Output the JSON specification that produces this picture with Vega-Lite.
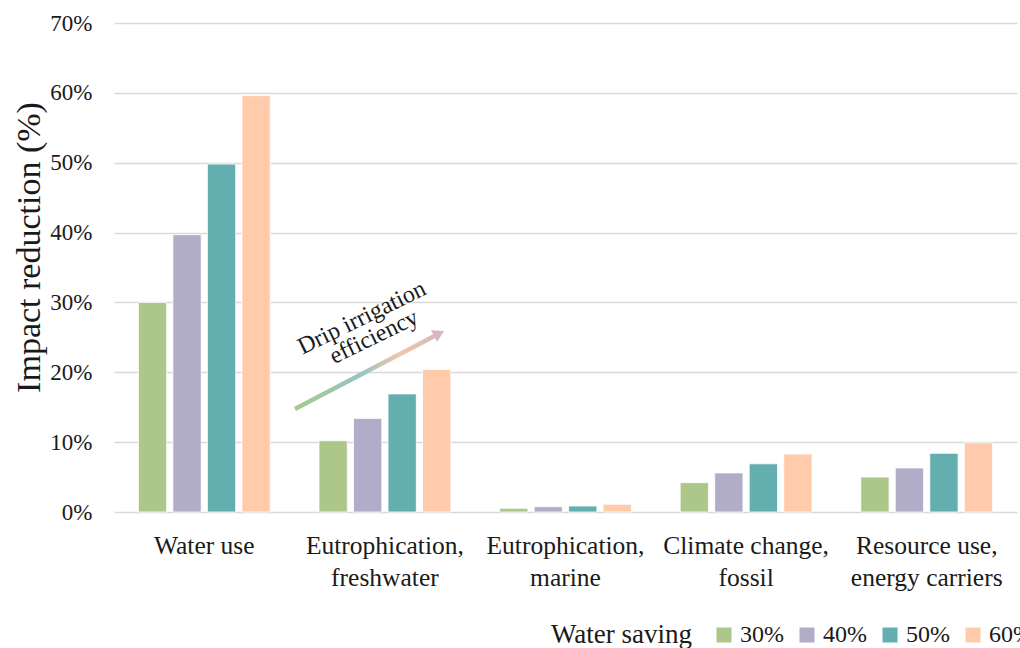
{
  "$schema": "https://vega.github.io/schema/vega-lite/v6.json",
  "autosize": {"type": "none"},
  "padding": {"left": 114, "top": 23, "right": 3, "bottom": 136},
  "width": 903,
  "height": 489,
  "background": "white",
  "config": {
    "font": "Liberation Serif",
    "view": {"stroke": null},
    "axis": {"labelFont": "Liberation Serif", "titleFont": "Liberation Serif", "labelColor": "#1a1a1a", "titleColor": "#1a1a1a"},
    "legend": {"labelFont": "Liberation Serif", "titleFont": "Liberation Serif"}
  },
  "layer": [
    {
      "data": {"values": [
        {"category": "Water use", "saving": "30%", "value": 0.300},
        {"category": "Water use", "saving": "40%", "value": 0.397},
        {"category": "Water use", "saving": "50%", "value": 0.498},
        {"category": "Water use", "saving": "60%", "value": 0.596},
        {"category": "Eutrophication, freshwater", "saving": "30%", "value": 0.102},
        {"category": "Eutrophication, freshwater", "saving": "40%", "value": 0.134},
        {"category": "Eutrophication, freshwater", "saving": "50%", "value": 0.169},
        {"category": "Eutrophication, freshwater", "saving": "60%", "value": 0.204},
        {"category": "Eutrophication, marine", "saving": "30%", "value": 0.0053},
        {"category": "Eutrophication, marine", "saving": "40%", "value": 0.0076},
        {"category": "Eutrophication, marine", "saving": "50%", "value": 0.0086},
        {"category": "Eutrophication, marine", "saving": "60%", "value": 0.011},
        {"category": "Climate change, fossil", "saving": "30%", "value": 0.042},
        {"category": "Climate change, fossil", "saving": "40%", "value": 0.056},
        {"category": "Climate change, fossil", "saving": "50%", "value": 0.069},
        {"category": "Climate change, fossil", "saving": "60%", "value": 0.083},
        {"category": "Resource use, energy carriers", "saving": "30%", "value": 0.050},
        {"category": "Resource use, energy carriers", "saving": "40%", "value": 0.063},
        {"category": "Resource use, energy carriers", "saving": "50%", "value": 0.084},
        {"category": "Resource use, energy carriers", "saving": "60%", "value": 0.099}
      ]},
      "mark": {"type": "bar", "stroke": "white", "strokeWidth": 0.8},
      "encoding": {
        "x": {
          "field": "category", "type": "nominal", "sort": null,
          "scale": {"paddingInner": 0.27, "paddingOuter": 0.135},
          "axis": {
            "title": null, "labelAngle": 0, "labelFontSize": 25.5, "labelPadding": 33,
            "labelLineHeight": 32, "ticks": false, "domain": false, "labelBaseline": "middle",
            "labelExpr": "indexof(datum.value, ', ') > 0 ? [slice(datum.value, 0, indexof(datum.value, ', ') + 1), slice(datum.value, indexof(datum.value, ', ') + 2)] : datum.value"
          }
        },
        "xOffset": {"field": "saving", "type": "nominal", "scale": {"paddingInner": 0.18, "paddingOuter": 0}},
        "y": {
          "field": "value", "type": "quantitative",
          "scale": {"domain": [0, 0.7], "nice": false},
          "axis": {
            "title": "Impact reduction (%)", "titleFontSize": 34, "titleFontWeight": "normal", "titlePadding": 3,
            "titleY": 224,
            "format": ".0%", "values": [0, 0.1, 0.2, 0.3, 0.4, 0.5, 0.6, 0.7],
            "labelFontSize": 23, "labelPadding": 22, "ticks": false, "domain": false,
            "grid": true, "gridColor": "#d9d9d9", "gridWidth": 1.5
          }
        },
        "color": {
          "field": "saving", "type": "nominal",
          "scale": {"domain": ["30%", "40%", "50%", "60%"], "range": ["#ADC78A", "#B1ADC8", "#63AFB0", "#FFCBAB"]},
          "legend": {
            "title": "Water saving", "orient": "none", "legendX": 437, "legendY": 600,
            "direction": "horizontal", "titleOrient": "left", "titleFontSize": 27, "titleFontWeight": "normal",
            "titleColor": "#1a1a1a", "titlePadding": 19, "titleBaseline": "middle", "titleAnchor": "middle",
            "labelFontSize": 24, "labelColor": "#1a1a1a", "symbolType": "square", "symbolSize": 225,
            "symbolStrokeWidth": 0, "labelOffset": 4, "columnPadding": 11
          }
        }
      }
    },
    {
      "data": {"values": [
        {"ax": 1.002, "ay": 0.1474},
        {"ax": 1.785, "ay": 0.2535}
      ]},
      "mark": {
        "type": "line", "strokeWidth": 4.5, "strokeCap": "butt",
        "stroke": {"gradient": "linear", "x1": 0, "y1": 0, "x2": 1, "y2": 0,
          "stops": [
            {"offset": 0, "color": "#a9c98c"},
            {"offset": 0.45, "color": "#94c6c0"},
            {"offset": 0.75, "color": "#f3c6ab"},
            {"offset": 1, "color": "#d7b8bc"}
          ]}
      },
      "encoding": {
        "x": {"field": "ax", "type": "quantitative", "scale": {"domain": [0, 5], "nice": false, "zero": false}, "axis": null},
        "y": {"field": "ay", "type": "quantitative"}
      }
    },
    {
      "data": {"values": [{"ax": 1.80, "ay": 0.2555}]},
      "mark": {"type": "point", "shape": "triangle-right", "filled": true, "color": "#d7b8bc", "size": 170, "angle": 332.5, "opacity": 1},
      "encoding": {
        "x": {"field": "ax", "type": "quantitative", "scale": {"domain": [0, 5], "nice": false, "zero": false}, "axis": null},
        "y": {"field": "ay", "type": "quantitative"}
      }
    },
    {
      "data": {"values": [
        {"ax": 1.373, "ay": 0.2777, "label": "Drip irrigation"},
        {"ax": 1.440, "ay": 0.2505, "label": "efficiency"}
      ]},
      "mark": {"type": "text", "angle": 334, "fontSize": 24, "color": "#1a1a1a", "baseline": "middle", "align": "center"},
      "encoding": {
        "x": {"field": "ax", "type": "quantitative", "scale": {"domain": [0, 5], "nice": false, "zero": false}, "axis": null},
        "y": {"field": "ay", "type": "quantitative"},
        "text": {"field": "label"}
      }
    }
  ],
  "resolve": {"scale": {"x": "independent"}}
}
